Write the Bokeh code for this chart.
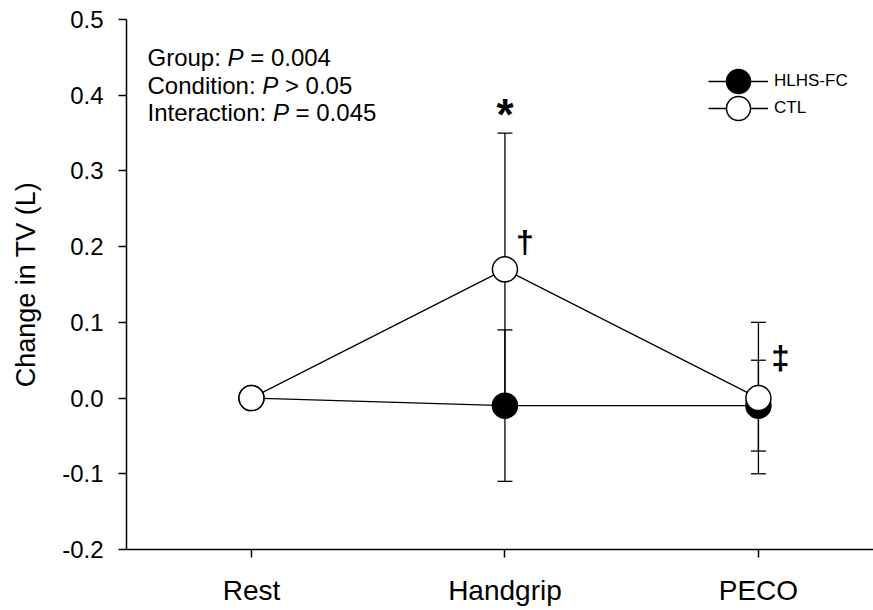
from bokeh.plotting import figure
from bokeh.models import (FixedTicker, Range1d, ColumnDataSource, Whisker, TeeHead,
                          Label, Legend, LegendItem)
from bokeh.embed import file_html
from bokeh.resources import INLINE

# ---------------- data ----------------
categories = ["Rest", "Handgrip", "PECO"]
series_names = ["HLHS-FC", "CTL"]
hlhs_mean = [0.0, -0.01, -0.01]
hlhs_err = [0.0, 0.10, 0.06]
ctl_mean = [0.0, 0.17, 0.0]
ctl_err = [0.0, 0.18, 0.10]
y_ticks = [-0.2, -0.1, 0.0, 0.1, 0.2, 0.3, 0.4, 0.5]
y_tick_labels = ["-0.2", "-0.1", "0.0", "0.1", "0.2", "0.3", "0.4", "0.5"]
stats_lines = [("Group:", "P", "= 0.004"),
               ("Condition:", "P", "> 0.05"),
               ("Interaction:", "P", "= 0.045")]
y_label = "Change in TV (L)"

x = list(range(1, len(categories) + 1))

FONT = "Liberation Sans"

p = figure(width=873, height=610, output_backend="svg", toolbar_location=None,
           x_range=Range1d(0.507, 3.454), y_range=Range1d(-0.2, 0.5),
           min_border_left=126, min_border_right=0, min_border_top=19,
           min_border_bottom=61)
p.outline_line_color = None
p.xgrid.visible = False
p.ygrid.visible = False
p.background_fill_color = "white"
p.border_fill_color = "white"

for ax in (p.xaxis[0], p.yaxis[0]):
    ax.axis_line_width = 1.5
    ax.axis_line_color = "black"
    ax.major_tick_line_width = 1.5
    ax.major_tick_line_color = "black"
    ax.major_tick_out = 8
    ax.major_tick_in = 0
    ax.minor_tick_out = 0
    ax.minor_tick_in = 0
    ax.major_label_text_font = FONT
    ax.major_label_text_color = "black"

p.xaxis.ticker = FixedTicker(ticks=x)
p.xaxis.major_label_overrides = dict(zip(x, categories))
p.xaxis.major_label_text_font_size = "28px"
p.xaxis.major_label_standoff = 17

p.yaxis.ticker = FixedTicker(ticks=y_ticks)
p.yaxis.major_label_overrides = dict(zip(y_ticks, y_tick_labels))
p.yaxis.major_label_text_font_size = "24px"
p.yaxis.major_label_standoff = 15
p.yaxis.axis_label = y_label
p.yaxis.axis_label_text_font = FONT
p.yaxis.axis_label_text_font_style = "normal"
p.yaxis.axis_label_text_font_size = "27px"
p.yaxis.axis_label_text_color = "black"
p.yaxis.axis_label_standoff = 18

# ---------------- error bars ----------------
def whisker(mean, err):
    idx = [i for i in range(len(mean)) if err[i] > 0]
    src = ColumnDataSource(dict(
        x=[x[i] for i in idx],
        upper=[mean[i] + err[i] for i in idx],
        lower=[mean[i] - err[i] for i in idx]))
    w = Whisker(source=src, base="x", upper="upper", lower="lower",
                line_color="black", line_width=1.3, level="underlay",
                upper_head=TeeHead(size=15, line_width=1.3, line_color="black"),
                lower_head=TeeHead(size=15, line_width=1.3, line_color="black"))
    p.add_layout(w)

whisker(hlhs_mean, hlhs_err)
whisker(ctl_mean, ctl_err)

# ---------------- lines and markers ----------------
l_h = p.line(x, hlhs_mean, line_color="black", line_width=1.3)
l_c = p.line(x, ctl_mean, line_color="black", line_width=1.3)
s_h = p.scatter(x, hlhs_mean, size=25, fill_color="black", line_color="black",
                line_width=1.5)
s_c = p.scatter(x, ctl_mean, size=25, fill_color="white", line_color="black",
                line_width=1.5)

# ---------------- legend ----------------
for i, (name, rends) in enumerate([(series_names[0], [l_h, s_h]),
                                    (series_names[1], [l_c, s_c])]):
    lg = Legend(items=[LegendItem(label=name, renderers=rends)],
                location=(582, 437 - 27 * i), glyph_width=60, glyph_height=62,
                padding=0, margin=0, spacing=0, label_standoff=6,
                border_line_color=None, background_fill_alpha=0,
                label_text_font=FONT, label_text_font_size="17px",
                label_text_color="black")
    p.add_layout(lg)

# ---------------- statistics text ----------------
W = {'G': 778, 'r': 333, 'o': 556, 'u': 556, 'p': 556, ':': 278, ' ': 278,
     'C': 722, 'n': 556, 'd': 556, 'i': 222, 't': 278, 'I': 278, 'e': 556,
     'a': 556, 'c': 500, 'P': 667, '=': 584, '>': 584, '0': 556, '.': 278,
     '4': 556, '5': 556}
FS = 24

def tw(s):
    return sum(W.get(ch, 556) for ch in s) * FS / 1000.0

for k, (a, b, c) in enumerate(stats_lines):
    y_scr = 492 - 27.5 * k
    off_b = tw(a) + tw(" ")
    off_c = off_b + tw(b) + tw(" ")
    for txt, off, style in ((a, 0, "normal"), (b, off_b, "italic"), (c, off_c, "normal")):
        p.add_layout(Label(x=21, y=y_scr, x_units="screen", y_units="screen",
                           x_offset=off, text=txt, text_font=FONT,
                           text_font_size=f"{FS}px", text_font_style=style,
                           text_baseline="middle", text_align="left",
                           text_color="black"))

# ---------------- significance marks ----------------
p.add_layout(Label(x=x[1], y=ctl_mean[1] + ctl_err[1], y_offset=19, text="*",
                   text_font=FONT, text_font_size="44px", text_font_style="bold",
                   text_align="center", text_baseline="alphabetic",
                   text_color="black"))
p.add_layout(Label(x=x[1], y=ctl_mean[1], x_offset=20, y_offset=27, text="\u2020",
                   text_font=FONT, text_font_size="32px", text_font_style="bold",
                   text_align="center", text_baseline="middle",
                   text_color="black"))
p.add_layout(Label(x=x[2], y=ctl_mean[2], x_offset=22, y_offset=41, text="\u2021",
                   text_font=FONT, text_font_size="33px", text_font_style="bold",
                   text_align="center", text_baseline="middle",
                   text_color="black"))

open("out.html", "w").write(file_html(p, INLINE))
